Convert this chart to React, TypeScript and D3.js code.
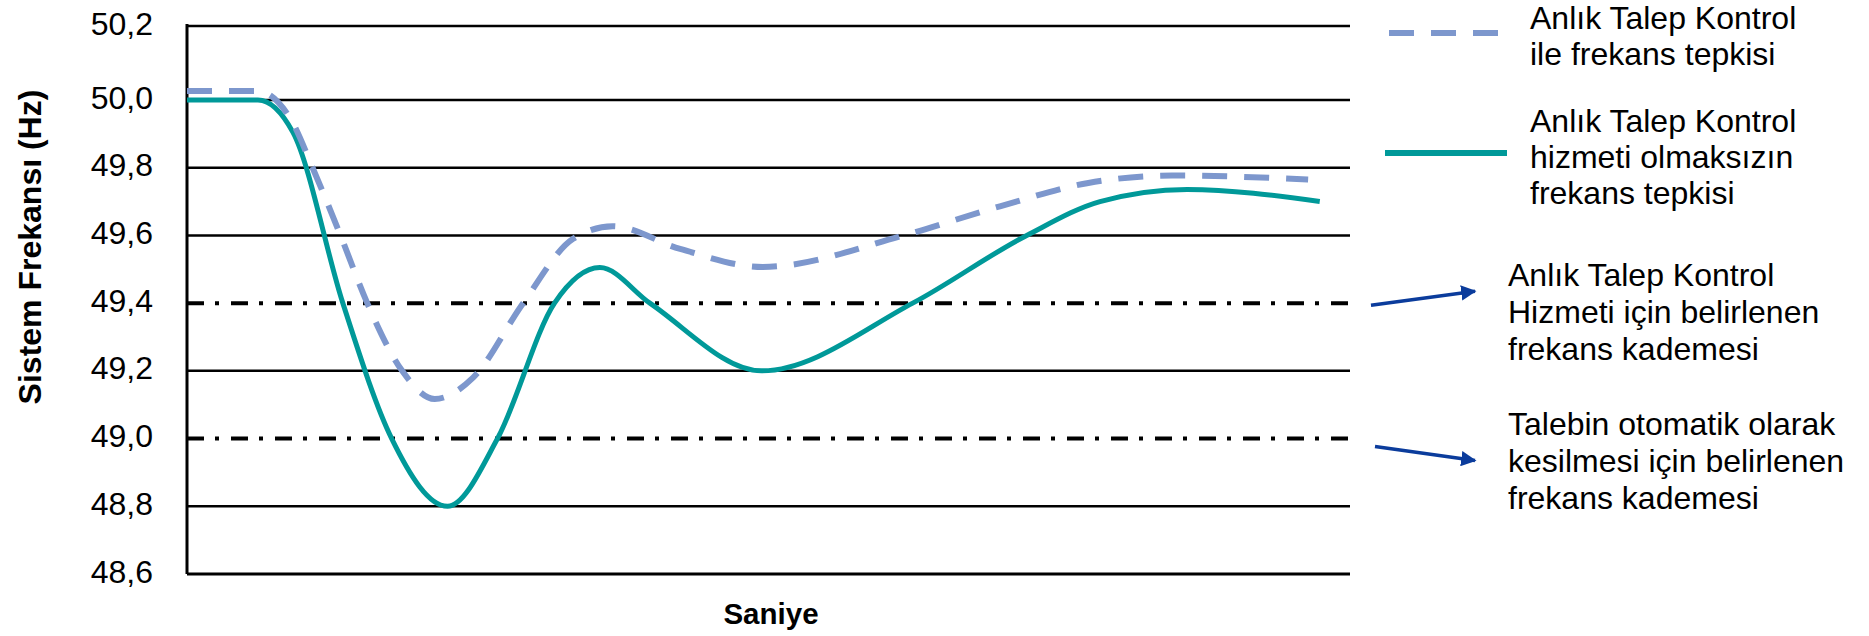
import React from "react";
import * as d3 from "d3";

const W = 1869;
const H = 636;

// Y axis ticks (Hz)
const yTicks = [48.6, 48.8, 49.0, 49.2, 49.4, 49.6, 49.8, 50.0, 50.2];
// threshold (dash-dot) levels
const thresholdLevels = [49.4, 49.0];

// Response without the service (solid teal) — time in relative units (0..100)
const solidTime = [0, 5.6, 6.1, 9.1, 13.4, 17.6, 22.4, 26.7, 31.6, 35.5, 39.8, 49.4, 62.4, 72.2, 78.5, 86.0, 97.4];
const solidFreq = [50.0, 50.0, 50.0, 49.905, 49.4, 49.0, 48.8, 49.0, 49.4, 49.505, 49.4, 49.2, 49.4, 49.6, 49.7, 49.736, 49.7];

// Response with the service (dashed blue)
const dashedTime = [0, 5.6, 6.1, 9.1, 10.8, 13.2, 15.5, 18.5, 21.3, 24.6, 28.9, 33.2, 36.6, 42.4, 49.5, 61.6, 69.9, 77.5, 84.7, 96.4];
const dashedFreq = [50.024, 50.024, 50.024, 49.932, 49.8, 49.6, 49.4, 49.2, 49.117, 49.18, 49.4, 49.59, 49.627, 49.56, 49.507, 49.6, 49.686, 49.755, 49.777, 49.765];

const legendWith = ["Anlık Talep Kontrol", "ile frekans tepkisi"];
const legendWithout = ["Anlık Talep Kontrol", "hizmeti olmaksızın", "frekans tepkisi"];
const noteService = ["Anlık Talep Kontrol", "Hizmeti için belirlenen", "frekans kademesi"];
const noteShedding = ["Talebin otomatik olarak", "kesilmesi için belirlenen", "frekans kademesi"];

const yTitle = "Sistem Frekansı (Hz)";
const xTitle = "Saniye";

const TEAL = "#009999";
const BLUE = "#7D97CD";
const ARROW = "#0B3C9C";
const FONT = "'Liberation Sans', Arial, sans-serif";

export default function App() {
  const left = 187;
  const right = 1350;
  const x = d3.scaleLinear().domain([0, 100]).range([left, right]);
  const y = d3.scaleLinear().domain([48.6, 50.0, 50.2]).range([574, 100, 26]);
  const fmt = (v: number) => d3.format(".1f")(v).replace(".", ",");

  const line = d3
    .line<[number, number]>()
    .x((d) => x(d[0]))
    .y((d) => y(d[1]))
    .curve(d3.curveMonotoneX);

  const solidPts = solidTime.map((t, i) => [t, solidFreq[i]] as [number, number]);
  const dashedPts = dashedTime.map((t, i) => [t, dashedFreq[i]] as [number, number]);

  const textX = 1530;
  const noteX = 1508;
  const fs = 32;

  return (
    <svg width={W} height={H} style={{ position: "absolute", left: 0, top: 0, background: "#fff" }} fontFamily={FONT}>
      <defs>
        <marker id="arrowHead" viewBox="0 0 10 10" refX="9" refY="5" markerWidth="4.4" markerHeight="4.4" orient="auto" markerUnits="strokeWidth">
          <path d="M0,0 L10,5 L0,10 z" fill={ARROW} />
        </marker>
      </defs>
      <rect x={0} y={0} width={W} height={H} fill="#fff" />

      {/* gridlines */}
      {yTicks
        .filter((t) => !thresholdLevels.includes(t))
        .map((t) => (
          <line key={t} x1={left} x2={right} y1={y(t)} y2={y(t)} stroke="#000" strokeWidth={t === 48.6 ? 3 : 2.5} />
        ))}
      {thresholdLevels.map((t) => (
        <line key={"th" + t} x1={left} x2={right} y1={y(t)} y2={y(t)} stroke="#000" strokeWidth={4} strokeDasharray="17 11 4 12" />
      ))}

      {/* y axis */}
      <line x1={left} x2={left} y1={24} y2={574} stroke="#000" strokeWidth={3} />

      {/* tick labels */}
      {yTicks.map((t) => (
        <text key={"l" + t} x={153} y={y(t)} dy="0.27em" textAnchor="end" fontSize={32} fill="#000">
          {fmt(t)}
        </text>
      ))}

      {/* axis titles */}
      <text transform={`translate(41,247) rotate(-90)`} textAnchor="middle" fontSize={32} fontWeight="bold" fill="#000">
        {yTitle}
      </text>
      <text x={771} y={624} textAnchor="middle" fontSize={29.5} fontWeight="bold" fill="#000">
        {xTitle}
      </text>

      {/* series */}
      <path d={line(solidPts) || ""} fill="none" stroke={TEAL} strokeWidth={5} strokeLinejoin="round" />
      <path d={line(dashedPts) || ""} fill="none" stroke={BLUE} strokeWidth={6} strokeDasharray="25 17" />

      {/* legend */}
      <line x1={1389} x2={1498} y1={33} y2={33} stroke={BLUE} strokeWidth={6} strokeDasharray="25 17" />
      {legendWith.map((s, i) => (
        <text key={"lw" + i} x={textX} y={29 + i * 36} fontSize={fs} fill="#000">
          {s}
        </text>
      ))}
      <line x1={1385} x2={1507} y1={153} y2={153} stroke={TEAL} strokeWidth={6} />
      {legendWithout.map((s, i) => (
        <text key={"lo" + i} x={textX} y={132 + i * 36} fontSize={fs} fill="#000">
          {s}
        </text>
      ))}

      {/* annotations */}
      <line x1={1371} y1={y(49.4) + 2} x2={1475} y2={y(49.4) - 12} stroke={ARROW} strokeWidth={3.5} markerEnd="url(#arrowHead)" />
      {noteService.map((s, i) => (
        <text key={"ns" + i} x={noteX} y={286 + i * 37} fontSize={fs} fill="#000">
          {s}
        </text>
      ))}
      <line x1={1375} y1={y(49.0) + 8} x2={1475} y2={y(49.0) + 22} stroke={ARROW} strokeWidth={3.5} markerEnd="url(#arrowHead)" />
      {noteShedding.map((s, i) => (
        <text key={"nd" + i} x={noteX} y={435 + i * 37} fontSize={fs} fill="#000">
          {s}
        </text>
      ))}
    </svg>
  );
}
